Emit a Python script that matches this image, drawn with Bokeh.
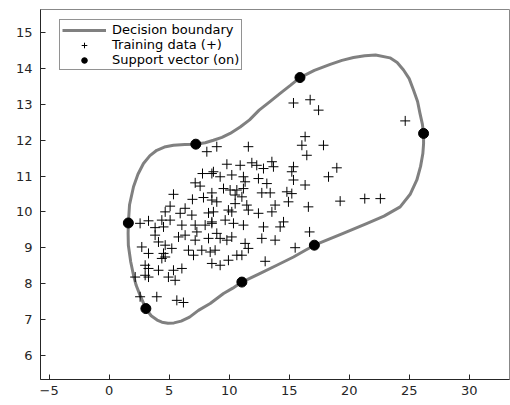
from bokeh.plotting import figure
from bokeh.models import Range1d, FixedTicker, Legend, LegendItem
from bokeh.embed import file_html
from bokeh.resources import INLINE

# ---- data ----
train_x = [8.14, 7.78, 8.56, 7.17, 7.58, 5.36, 6.94, 7.86, 8.56, 5.08, 6.33, 4.67, 5.92, 6.89, 8.28,
           2.58, 3.28, 4.39, 5.08, 6.06, 7.17, 8.0, 3.83, 8.56,
           4.53, 7.31, 3.83, 5.78, 6.33, 7.17, 8.28, 2.72, 4.11, 4.67, 5.22, 3.28, 4.53, 6.61, 7.03,
           7.72, 8.42, 4.39, 4.67, 3.0, 3.28, 4.11, 5.36, 6.06, 2.17, 3.0, 3.28, 4.94, 5.5, 2.58,
           3.97, 5.64, 6.19,
           8.97, 11.6, 16.06, 16.47, 9.81, 10.92, 11.89, 12.3, 13.56, 13.69, 12.86, 15.36, 15.22,
           8.69, 9.25, 10.22, 11.19, 11.33, 12.44, 15.36, 16.33, 13.14, 9.53, 10.08, 10.64, 11.19,
           12.72, 13.42, 14.81, 15.22, 8.56, 10.5, 11.06, 14.94, 8.97, 10.5, 11.47, 13.83, 16.6,
           9.94, 10.22, 11.6, 12.44, 13.56, 8.69, 9.67, 10.36, 11.19, 12.86, 14.25, 14.53, 8.56,
           8.97, 9.25, 9.81, 10.22, 12.72, 13.83, 16.7, 11.33, 11.6, 15.5, 8.83, 10.64, 11.06,
           9.94, 13.0, 8.56, 9.25,
           16.75, 15.36, 17.45, 16.33, 17.86, 18.97, 18.28, 19.25, 21.3, 22.6, 24.67]
train_y = [11.68, 11.07, 11.07, 10.81, 10.72, 10.49, 10.35, 10.4, 10.33, 10.16, 10.1, 10.0, 9.96, 9.91, 9.97,
           9.68, 9.75, 9.77, 9.77, 9.63, 9.63, 9.63, 9.56, 9.68,
           9.58, 9.44, 9.35, 9.3, 9.35, 9.21, 9.26, 9.02, 9.16, 9.07, 8.98, 8.84, 8.84, 8.93, 8.79,
           8.93, 8.88, 8.70, 8.74, 8.51, 8.42, 8.37, 8.37, 8.42, 8.18, 8.23, 8.18, 8.18, 8.09, 7.63,
           7.63, 7.53, 7.47,
           11.82, 11.82, 11.86, 11.58, 11.33, 11.3, 11.37, 11.3, 11.4, 11.26, 11.21, 11.26, 11.12,
           11.12, 10.98, 11.03, 10.98, 10.84, 10.93, 10.89, 10.75, 10.79, 10.65, 10.61, 10.61, 10.65,
           10.53, 10.53, 10.56, 10.51, 10.53, 10.47, 10.42, 10.28, 10.28, 10.23, 10.19, 10.19, 10.14,
           10.05, 10.0, 10.05, 9.96, 10.0, 10.0, 9.77, 9.68, 9.63, 9.58, 9.58, 9.72, 9.72,
           9.40, 9.26, 9.21, 9.30, 9.26, 9.21, 9.44, 9.12, 8.98, 9.0, 8.93, 8.79, 8.79,
           8.65, 8.62, 8.56, 8.51,
           13.13, 13.04, 12.84, 12.1, 11.86, 11.23, 10.98, 10.3, 10.37, 10.37, 12.54]

sv_x = [1.6, 7.22, 15.9, 26.2, 17.1, 11.06, 3.06]
sv_y = [9.69, 11.89, 13.75, 12.19, 9.07, 8.04, 7.3]

boundary_x = [1.6, 1.7, 2.03, 2.4, 2.86, 3.4, 3.97, 4.6, 5.36, 6.3, 7.22, 8.0, 8.69, 9.4, 10.08, 10.92,
              11.7, 12.5, 13.4, 14.25, 15.1, 15.9, 17.1, 18.42, 19.4, 20.36, 21.3, 22.2, 23.4, 24.0,
              24.53, 25.0, 25.36, 25.7, 25.9, 26.1, 26.2, 26.2, 26.14, 25.95, 25.64, 25.1, 24.25,
              22.9, 21.5, 19.5, 17.1, 16.2, 15.36, 13.97, 12.5, 11.06, 10.3, 9.53, 8.42, 7.44, 6.7,
              6.0, 5.4, 4.9, 4.4, 4.0, 3.5, 3.06, 2.58, 2.25, 2.03, 1.8, 1.6, 1.58, 1.6]
boundary_y = [9.69, 10.2, 10.7, 11.05, 11.35, 11.57, 11.72, 11.81, 11.86, 11.88, 11.89, 11.93, 12.0,
              12.08, 12.19, 12.37, 12.57, 12.84, 13.08, 13.31, 13.53, 13.75, 13.95, 14.12, 14.23,
              14.31, 14.36, 14.38, 14.3, 14.17, 13.96, 13.72, 13.4, 13.08, 12.75, 12.45, 12.19,
              11.9, 11.63, 11.27, 10.89, 10.5, 10.14, 9.88, 9.68, 9.4, 9.07, 8.9, 8.74, 8.51,
              8.27, 8.04, 7.87, 7.72, 7.44, 7.25, 7.06, 6.95, 6.9, 6.89, 6.92, 6.98, 7.1, 7.3,
              7.67, 7.95, 8.23, 8.6, 9.07, 9.4, 9.69]

x_ticks = [-5, 0, 5, 10, 15, 20, 25, 30]
y_ticks = [6, 7, 8, 9, 10, 11, 12, 13, 14, 15]

FONT = "DejaVu Sans"
AX = "#262626"

p = figure(width=510, height=405, output_backend="svg", toolbar_location=None,
           x_range=Range1d(-5.72, 33.36), y_range=Range1d(5.32, 15.65),
           min_border_left=40, min_border_right=1, min_border_top=9, min_border_bottom=26)
p.background_fill_color = "white"
p.border_fill_color = "white"
p.outline_line_color = "#888888"
p.outline_line_width = 1
p.xgrid.visible = False
p.ygrid.visible = False

for ax, ticks in ((p.xaxis[0], x_ticks), (p.yaxis[0], y_ticks)):
    ax.ticker = FixedTicker(ticks=ticks)
    ax.major_tick_in = 5
    ax.major_tick_out = 0
    ax.minor_tick_line_color = None
    ax.axis_line_color = AX
    ax.major_tick_line_color = AX
    ax.major_label_text_font = FONT
    ax.major_label_text_font_size = "13px"
    ax.major_label_text_color = AX
p.xaxis[0].major_label_standoff = 6
p.yaxis[0].major_label_standoff = 8

r_line = p.line(boundary_x, boundary_y, line_color="#808080", line_width=3, line_join="round")
r_train = p.scatter(train_x, train_y, marker="cross", size=10, line_color="black", line_width=1)
r_sv = p.scatter(sv_x, sv_y, marker="circle", size=10, fill_color="black", line_color="black")

legend = Legend(items=[LegendItem(label="Decision boundary", renderers=[r_line]),
                       LegendItem(label="Training data (+)", renderers=[r_train]),
                       LegendItem(label="Support vector (on)", renderers=[r_sv])],
                location=(19, 309), margin=0, padding=2, spacing=0,
                label_height=14, glyph_height=14, glyph_width=44, label_standoff=6,
                label_text_font=FONT, label_text_font_size="13px", label_text_color="black",
                border_line_color=AX, border_line_width=1, background_fill_color="white",
                background_fill_alpha=1.0)
p.add_layout(legend, "center")

open("out.html", "w").write(file_html(p, INLINE))
